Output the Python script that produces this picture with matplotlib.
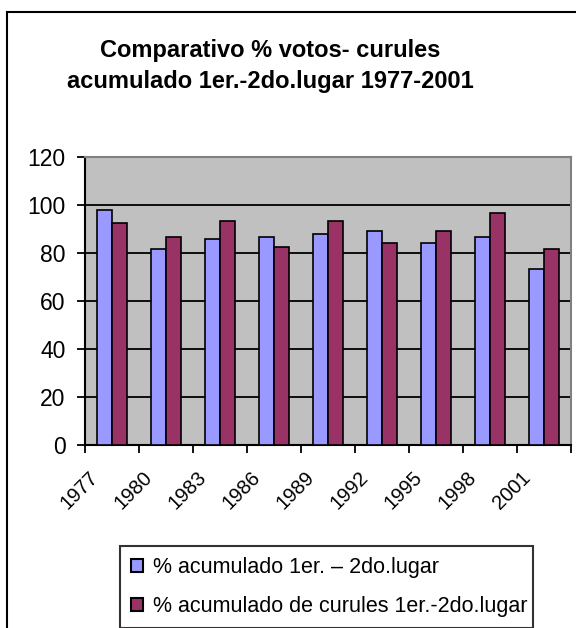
import matplotlib
matplotlib.use("Agg")
import matplotlib.pyplot as plt
import numpy as np
from matplotlib.patches import Rectangle

years = ["1977", "1980", "1983", "1986", "1989", "1992", "1995", "1998", "2001"]
votos = [98.0, 81.7, 85.7, 86.5, 88.0, 89.2, 84.0, 86.5, 73.3]
curules = [92.3, 86.5, 93.3, 82.3, 93.2, 84.0, 89.2, 96.7, 81.7]
series1_label = "% acumulado 1er. – 2do.lugar"
series2_label = "% acumulado de curules 1er.-2do.lugar"
title = "Comparativo % votos- curules\nacumulado 1er.-2do.lugar 1977-2001"

plt.rcParams['font.family'] = ['Liberation Sans', 'DejaVu Sans']

W, H = 576, 628
fig = plt.figure(figsize=(W / 100, H / 100), dpi=100)

# outer chart frame
fig.patches.append(Rectangle((7 / W, -0.1), 1.2, (H - 12) / H + 0.1,
                             transform=fig.transFigure, fill=False,
                             edgecolor='black', linewidth=1.5))

ax = fig.add_axes([85 / W, (H - 445) / H, 486 / W, 288 / H])
ax.set_facecolor('#C0C0C0')

x = np.arange(len(votos))
bw = 0.28
ax.bar(x - bw / 2, votos, bw, color='#9999FF', edgecolor='black', linewidth=1.2,
       label=series1_label, zorder=3)
ax.bar(x + bw / 2, curules, bw, color='#993366', edgecolor='black', linewidth=1.2,
       label=series2_label, zorder=3)

ax.set_ylim(0, 120)
ax.set_xlim(-0.5, len(votos) - 0.5)
ax.set_yticks(np.arange(0, 121, 20))
ax.yaxis.grid(True, color='black', linewidth=1.3, zorder=1)
ax.set_axisbelow(True)

# major ticks at category boundaries (marks only)
ax.set_xticks(np.arange(-0.5, len(votos) + 0.5, 1.0))
ax.set_xticklabels([""] * (len(votos) + 1))
# labels on minor ticks, slightly shifted so rotated text ends near each boundary
ax.set_xticks(np.arange(len(years)) - 0.5 + 0.07, minor=True)
ax.set_xticklabels(years, minor=True, rotation=45, ha='right', va='top',
                   rotation_mode='anchor', fontsize=14.5)
ax.tick_params(axis='x', which='minor', length=0, pad=16.5)
ax.tick_params(axis='both', which='major', direction='out', length=6, width=1.3, color='black')
ax.tick_params(axis='y', labelsize=16.5, pad=8)

for s in ['left', 'bottom']:
    ax.spines[s].set_color('black')
    ax.spines[s].set_linewidth(1.5)
for s in ['top', 'right']:
    ax.spines[s].set_color('#808080')
    ax.spines[s].set_linewidth(1.5)

fig.text(270 / W, 1 - 66 / H, title, ha='center', va='center', fontsize=17,
         fontweight='bold', linespacing=1.45)

leg = fig.legend(loc='upper left', bbox_to_anchor=(120 / W, 1 - 546 / H - 0.01, (533 - 120) / W, 0.01),
                 mode='expand', fontsize=15.5, frameon=True, fancybox=False,
                 handlelength=0.56, handleheight=0.56, handletextpad=0.45,
                 borderpad=0.5, labelspacing=0.85, borderaxespad=0)
leg.get_frame().set_edgecolor('black')
leg.get_frame().set_linewidth(1.5)
for h in leg.legend_handles:
    h.set_linewidth(1.5)

fig.savefig("out.png", dpi=100)
